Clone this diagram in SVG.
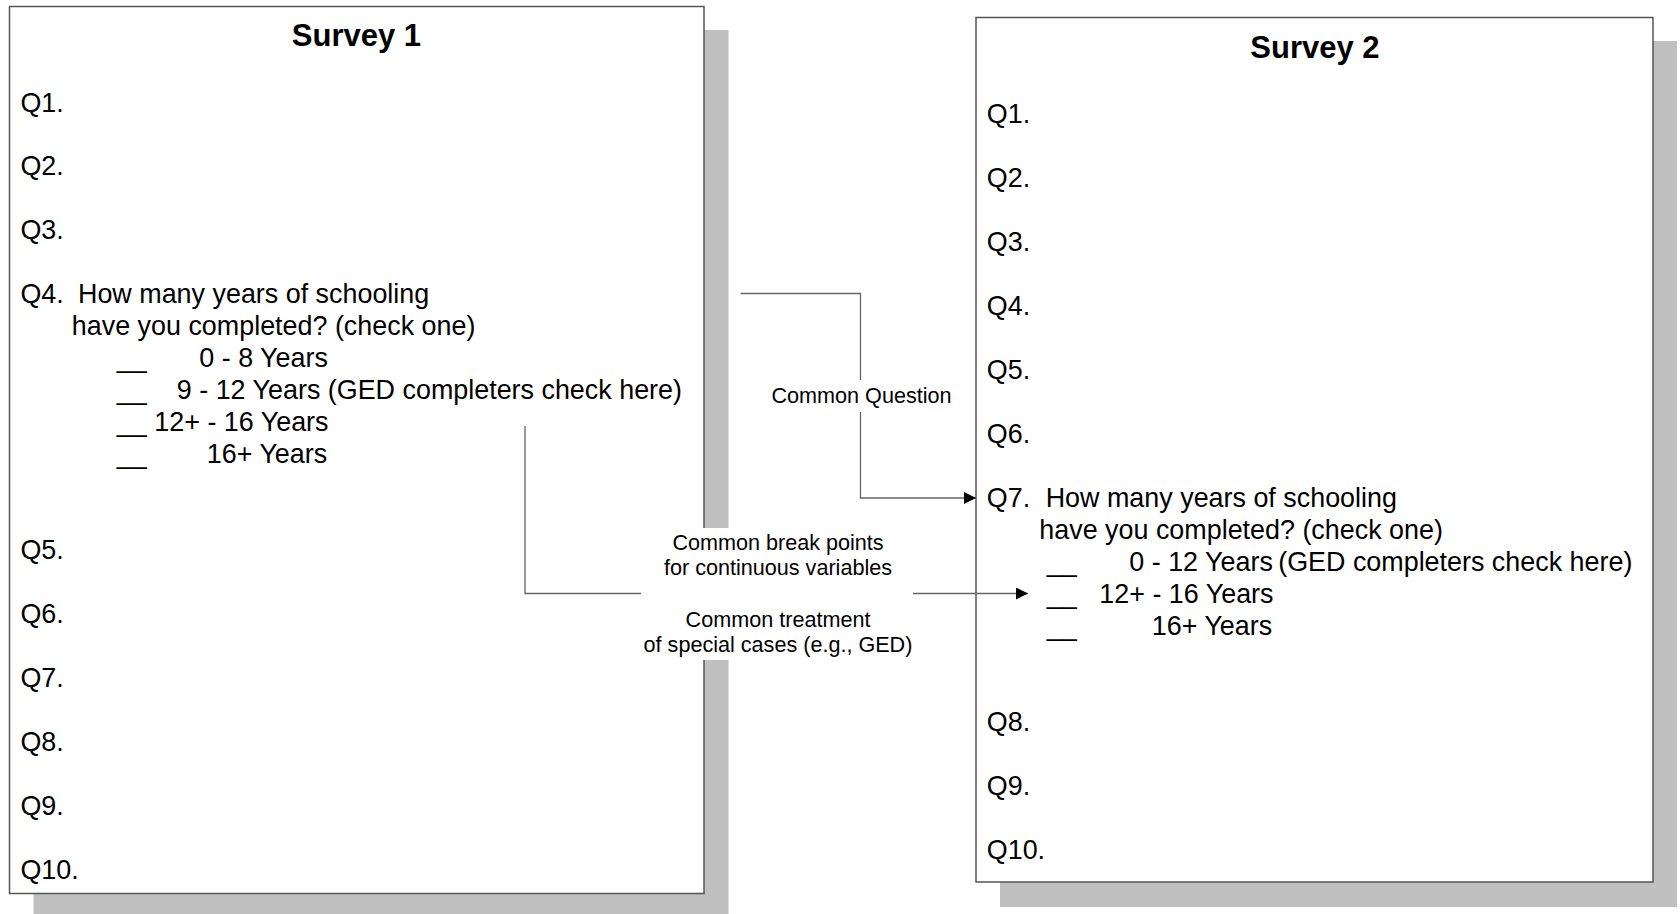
<svg xmlns="http://www.w3.org/2000/svg" width="1680" height="914" viewBox="0 0 1680 914">
<defs>
<style>
.shadow{fill:#c0c0c0;stroke:none}
.box{fill:#ffffff;stroke:#555555;stroke-width:1.5}
.title{font-family:"Liberation Sans",Arial,sans-serif;font-size:31px;font-weight:bold;fill:#000;text-anchor:middle}
.t{font-family:"Liberation Sans",Arial,sans-serif;font-size:26.9px;fill:#000}
.lbl{font-family:"Liberation Sans",Arial,sans-serif;font-size:21.6px;fill:#000;text-anchor:middle}
.conn{fill:none;stroke:#666666;stroke-width:1.3}
.lblbg{fill:#ffffff;stroke:none}
</style>
<marker id="arrow" markerUnits="userSpaceOnUse" markerWidth="13" markerHeight="13" refX="12" refY="6" orient="auto">
<path d="M0,0 L12,6 L0,12 Z" fill="#000000"/>
</marker>
</defs>
<rect width="1680" height="914" fill="#ffffff"/>

<g id="survey1">
<rect class="shadow" x="33.5" y="30" width="695" height="890"/>
<rect class="box" x="9.5" y="6.5" width="694.5" height="887"/>
<text class="title" x="356.5" y="46">Survey 1</text>
<text class="t" x="20.4" y="111.5">Q1.</text>
<text class="t" x="20.4" y="175">Q2.</text>
<text class="t" x="20.4" y="239">Q3.</text>
<text class="t" x="20.4" y="303">Q4.</text>
<text class="t" x="78" y="303">How many years of schooling</text>
<text class="t" x="71.8" y="335">have you completed? (check one)</text>
<text class="t" x="116.8" y="367">__</text>
<text class="t" x="199.3" y="367">0 - 8 Years</text>
<text class="t" x="116.8" y="399">__</text>
<text class="t" x="176.8" y="399">9 - 12 Years (GED completers check here)</text>
<text class="t" x="116.8" y="431">__</text>
<text class="t" x="154.3" y="431">12+ - 16 Years</text>
<text class="t" x="116.8" y="463">__</text>
<text class="t" x="206.8" y="463">16+ Years</text>
<text class="t" x="20.4" y="559">Q5.</text>
<text class="t" x="20.4" y="623">Q6.</text>
<text class="t" x="20.4" y="687">Q7.</text>
<text class="t" x="20.4" y="751">Q8.</text>
<text class="t" x="20.4" y="815">Q9.</text>
<text class="t" x="20.4" y="879">Q10.</text>
</g>

<g id="survey2">
<rect class="shadow" x="1000" y="41" width="677" height="866"/>
<rect class="box" x="976" y="17.5" width="677" height="864.5"/>
<text class="title" x="1315" y="58">Survey 2</text>
<text class="t" x="986.8" y="122.5">Q1.</text>
<text class="t" x="986.8" y="186.5">Q2.</text>
<text class="t" x="986.8" y="250.5">Q3.</text>
<text class="t" x="986.8" y="314.5">Q4.</text>
<text class="t" x="986.8" y="378.5">Q5.</text>
<text class="t" x="986.8" y="442.5">Q6.</text>
<text class="t" x="986.8" y="506.5">Q7.</text>
<text class="t" x="1045.7" y="506.5">How many years of schooling</text>
<text class="t" x="1039.3" y="538.5">have you completed? (check one)</text>
<text class="t" x="1046.8" y="570.5">__</text>
<text class="t" x="1129.3" y="570.5">0 - 12 Years</text>
<text class="t" x="1278.2" y="570.5">(GED completers check here)</text>
<text class="t" x="1046.8" y="602.5">__</text>
<text class="t" x="1099.3" y="602.5">12+ - 16 Years</text>
<text class="t" x="1046.8" y="634.5">__</text>
<text class="t" x="1151.8" y="634.5">16+ Years</text>
<text class="t" x="986.8" y="730.5">Q8.</text>
<text class="t" x="986.8" y="794.5">Q9.</text>
<text class="t" x="986.8" y="858.5">Q10.</text>
</g>

<g id="connectors">
<g id="conn-common-question">
<path class="conn" d="M740.5,293.5 H860.5 V498 H976" marker-end="url(#arrow)"/>
<rect class="lblbg" x="770" y="380" width="186" height="32"/>
<text class="lbl" x="861.5" y="403">Common Question</text>
</g>
<g id="conn-break-points">
<path class="conn" d="M525,426 V593.5 H1028" marker-end="url(#arrow)"/>
<rect class="lblbg" x="641" y="528" width="272" height="132"/>
<text class="lbl" x="778" y="549.5">Common break points</text>
<text class="lbl" x="778" y="575">for continuous variables</text>
<text class="lbl" x="778" y="626.5">Common treatment</text>
<text class="lbl" x="778" y="652">of special cases (e.g., GED)</text>
</g>
</g>
</svg>
